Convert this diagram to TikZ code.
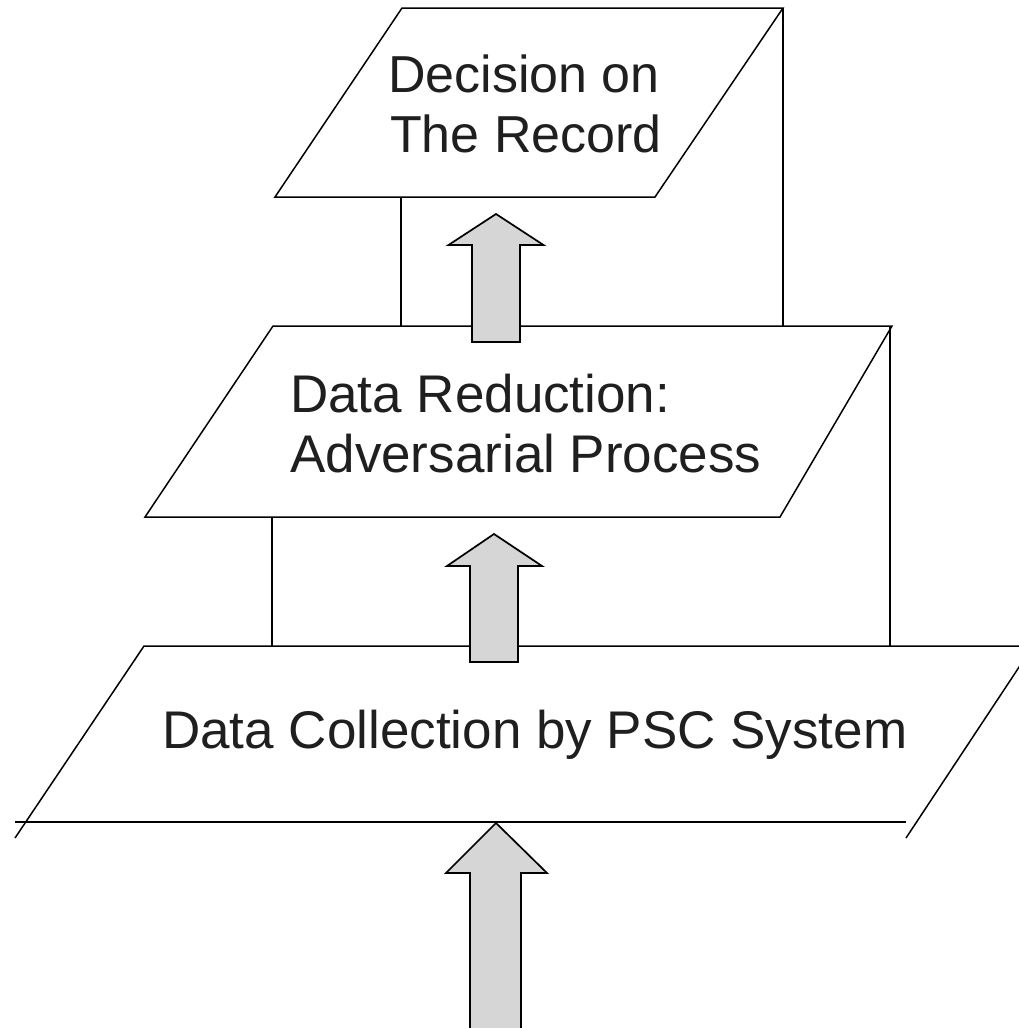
\documentclass[tikz,border=0pt]{standalone}
\usepackage{fontspec}
\setmainfont{Liberation Sans}
\begin{document}
\begin{tikzpicture}[x=1pt,y=-1pt,
  edge/.style={draw=black, line width=1.5pt, line join=miter},
  pillar/.style={draw=black, line width=1.3pt},
  blockarrow/.style={draw=black, fill=black!16, line width=1.7pt, line join=miter},
  label/.style={text=black!88, inner sep=0pt, font=\fontsize{53}{62}\selectfont}
]
\useasboundingbox (0,0) rectangle (1019,1028);
\clip (0,0) rectangle (1019,1028);
\fill[white] (0,0) rectangle (1019,1028);

% corner points of the three slanted layers
\coordinate (t-tl) at (402,8);   \coordinate (t-tr) at (783,8);
\coordinate (t-br) at (655,197); \coordinate (t-bl) at (275,197);
\coordinate (m-tl) at (273,326); \coordinate (m-tr) at (892,326);
\coordinate (m-br) at (780,517); \coordinate (m-bl) at (145,517);
\coordinate (b-tl) at (144,646); \coordinate (b-tr) at (1033,646);
\coordinate (b-ll) at (15,838);  \coordinate (b-rl) at (906,838);
\coordinate (b-bl) at (15,822);  \coordinate (b-br) at (906,822);

% supports between the layers
\coordinate (p1-top) at (401,197); \coordinate (p1-bot) at (401,326);
\coordinate (p2-top) at (783,8);   \coordinate (p2-bot) at (783,326);
\coordinate (p3-top) at (272,517); \coordinate (p3-bot) at (272,646);
\coordinate (p4-top) at (890,326); \coordinate (p4-bot) at (890,646);
\draw[pillar] (p1-top) -- (p1-bot);
\draw[pillar] (p2-top) -- (p2-bot);
\draw[pillar] (p3-top) -- (p3-bot);
\draw[pillar] (p4-top) -- (p4-bot);

% layers
\draw[edge] (t-tl) -- (t-tr) -- (t-br) -- (t-bl) -- cycle;
\draw[edge] (m-tl) -- (m-tr) -- (m-br) -- (m-bl) -- cycle;
\draw[edge] (b-ll) -- (b-tl) -- (b-tr) -- (b-rl);
\draw[edge] (b-bl) -- (b-br);

% upward block arrows
\draw[blockarrow] (496,214) -- (543.5,245) -- (520,245) -- (520,342)
  -- (472,342) -- (472,245) -- (448.5,245) -- cycle;
\draw[blockarrow] (494,534) -- (542,566) -- (518,566) -- (518,662)
  -- (470,662) -- (470,566) -- (447,566) -- cycle;
\draw[blockarrow] (496,823) -- (547,873) -- (521,873) -- (521,1040)
  -- (470,1040) -- (470,873) -- (446,873) -- cycle;

% texts
\node[label, font=\fontsize{52}{61}\selectfont, anchor=base] (dec1) at (524,92) {Decision on};
\node[label, font=\fontsize{52}{61}\selectfont, anchor=base] (dec2) at (526,152) {The Record};
\node[label, anchor=base west] (red1) at (290,412) {Data Reduction:};
\node[label, anchor=base west] (red2) at (290,472) {Adversarial Process};
\node[label, anchor=base west] (col) at (162,748) {Data Collection by PSC System};
\end{tikzpicture}
\end{document}
